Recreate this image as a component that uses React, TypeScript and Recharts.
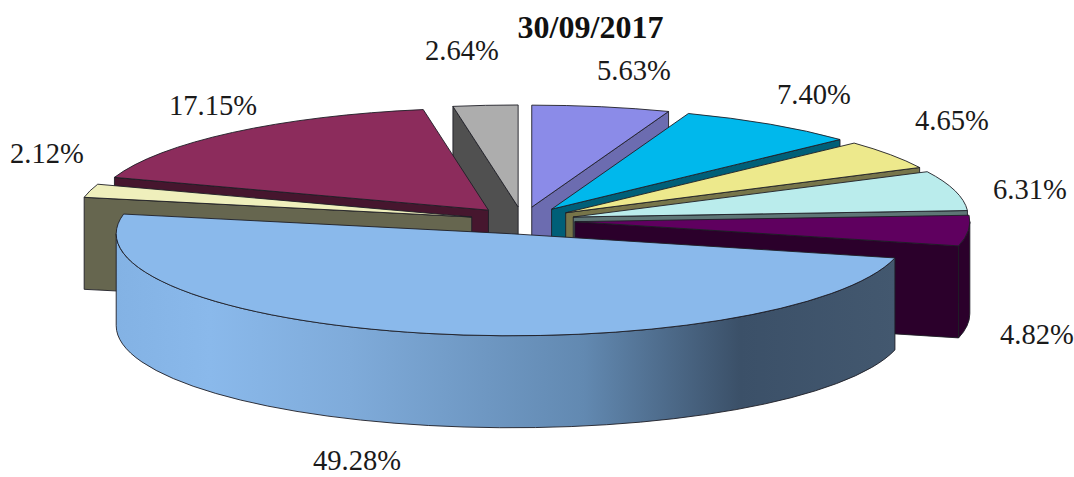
import { Pie, PieChart } from 'recharts'

const categories = ['A', 'B', 'C', 'D', 'E', 'F', 'G', 'H', 'I']
const shares = [5.63, 7.4, 4.65, 6.31, 4.82, 49.28, 2.12, 17.15, 2.64]
const topColors = ['#8b8be8', '#00b8ec', '#ede98c', '#baecec', '#5f005f', '#8ab9eb', '#efefbc', '#8c2c5c', '#adadad']
const sideColors = ['#6c6cb0', '#005f78', '#77754a', '#5e7676', '#2b002b', 'url(#blueSide)', '#66664f', '#46162e', '#505050']

// back to front, the big slice has to cover everything
const paintOrder = [8, 0, 7, 1, 2, 3, 4, 6, 5]

// left x / baseline y of each percentage
const labelSpots = [
  [597, 80],
  [777, 104],
  [915, 130],
  [993, 199],
  [1000, 344],
  [313, 470],
  [10, 163],
  [169, 115],
  [425, 60],
]

const data = categories.map((name, i) => ({ name, value: shares[i], fill: topColors[i], side: sideColors[i] }))

const WIDTH = 1074
const HEIGHT = 477
const CX = 522.5
const CY = 220.5
const RADIUS = 395
const TILT = 102 / 395
const DEPTH = 92
const EXPLODE = 0.133
const LINE = '#1e1e26'

function Slice(props: any) {
  const { cx, cy, outerRadius: r, startAngle, endAngle, midAngle, fill, side } = props
  const ry = r * TILT
  // recharts angles run counter clockwise from 3 o'clock, these run clockwise from 12
  const a0 = 90 - startAngle
  const a1 = 90 - endAngle
  const mid = ((90 - midAngle) * Math.PI) / 180
  const ax = cx + EXPLODE * r * Math.sin(mid)
  const ay = cy - EXPLODE * ry * Math.cos(mid)
  const pt = (deg: number) => {
    const t = (deg * Math.PI) / 180
    return [ax + r * Math.sin(t), ay - ry * Math.cos(t)]
  }
  const [sx, sy] = pt(a0)
  const [ex, ey] = pt(a1)
  const large = a1 - a0 > 180 ? 1 : 0
  const faces = []

  if (a0 > 180 && a0 < 360) {
    faces.push(`M${ax},${ay} L${sx},${sy} L${sx},${sy + DEPTH} L${ax},${ay + DEPTH} Z`)
  }
  if (a1 > 0 && a1 < 180) {
    faces.push(`M${ax},${ay} L${ex},${ey} L${ex},${ey + DEPTH} L${ax},${ay + DEPTH} Z`)
  }
  const w0 = Math.max(a0, 90)
  const w1 = Math.min(a1, 270)
  if (w1 > w0) {
    const [p0x, p0y] = pt(w0)
    const [p1x, p1y] = pt(w1)
    const big = w1 - w0 > 180 ? 1 : 0
    faces.push(
      `M${p0x},${p0y} A${r},${ry} 0 ${big} 1 ${p1x},${p1y} L${p1x},${p1y + DEPTH} A${r},${ry} 0 ${big} 0 ${p0x},${p0y + DEPTH} Z`,
    )
  }

  return (
    <g>
      {faces.map((d) => (
        <path key={d} d={d} fill={side} stroke={LINE} strokeWidth={0.9} />
      ))}
      <path
        d={`M${ax},${ay} L${sx},${sy} A${r},${ry} 0 ${large} 1 ${ex},${ey} Z`}
        fill={fill}
        stroke={LINE}
        strokeWidth={0.9}
      />
    </g>
  )
}

const onlySlice = (only: number) => (props: any) => (props.index === only ? <Slice {...props} /> : <g />)

function percentLabel(props: any) {
  const [x, y] = labelSpots[props.index]
  return (
    <text x={x} y={y} fontFamily="'Liberation Serif', serif" fontSize={28.6} fill="#1a1a1a">
      {`${shares[props.index].toFixed(2)}%`}
    </text>
  )
}

export default function App() {
  return (
    <div style={{ position: 'absolute', left: 0, top: 0, width: WIDTH, height: HEIGHT, background: '#fff' }}>
      <PieChart width={WIDTH} height={HEIGHT} margin={{ top: 0, right: 0, bottom: 0, left: 0 }}>
        <defs>
          <linearGradient id="blueSide" gradientUnits="userSpaceOnUse" x1={116} y1={0} x2={896} y2={0}>
            <stop offset="0" stopColor="#83b2e4" />
            <stop offset="0.12" stopColor="#8ab9eb" />
            <stop offset="0.3" stopColor="#7fabda" />
            <stop offset="0.6" stopColor="#6289b1" />
            <stop offset="0.8" stopColor="#3b5068" />
            <stop offset="1" stopColor="#43586f" />
          </linearGradient>
        </defs>
        {paintOrder.map((only, i) => (
          <Pie
            key={only}
            data={data}
            dataKey="value"
            nameKey="name"
            cx={CX}
            cy={CY}
            innerRadius={0}
            outerRadius={RADIUS}
            startAngle={90}
            endAngle={-270}
            stroke="none"
            isAnimationActive={false}
            shape={onlySlice(only)}
            label={i === paintOrder.length - 1 ? percentLabel : false}
            labelLine={false}
          />
        ))}
        <text x={590.5} y={38} textAnchor="middle" fontFamily="'Liberation Serif', serif" fontWeight="bold" fontSize={32} fill="#111">
          30/09/2017
        </text>
      </PieChart>
    </div>
  )
}
